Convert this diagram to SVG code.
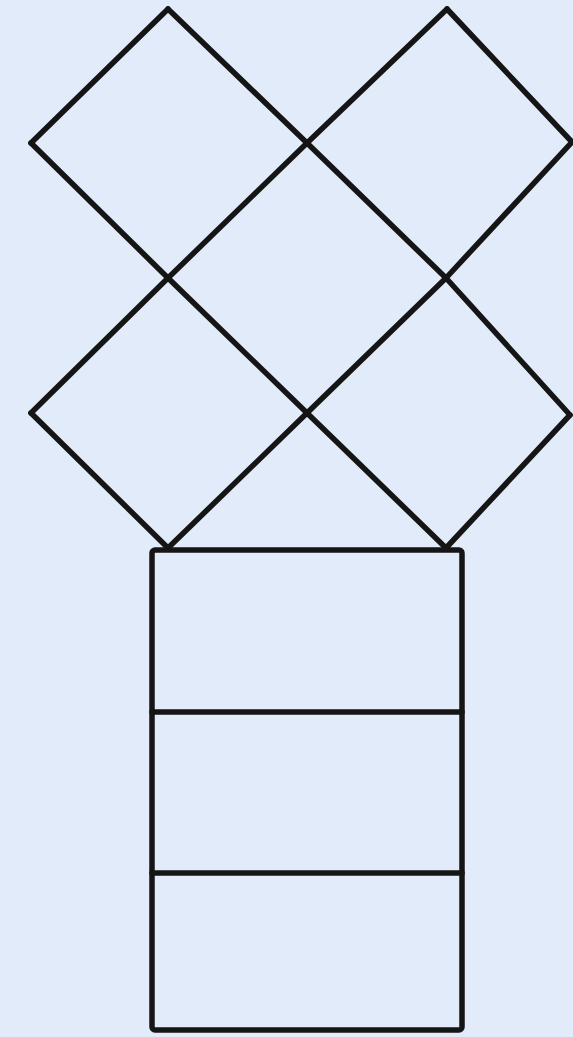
<svg xmlns="http://www.w3.org/2000/svg" width="573" height="1037" viewBox="0 0 573 1037">
<style>
.ln{fill:none;stroke:#151515;stroke-width:5.5;stroke-linecap:round;stroke-linejoin:round}
</style>
<rect width="573" height="1037" fill="#E2EBF9"/>
<g id="diamonds" class="ln">
<polyline points="31,143 168,278 307,413 446,548"/>
<polyline points="168,9 307,143 446,278 570,415"/>
<polyline points="31,413 168,548"/>
<polyline points="447,9 572,142"/>
<polyline points="447,9 307,143 168,278 31,413"/>
<polyline points="572,142 446,278 307,413 168,548"/>
<polyline points="168,9 31,143"/>
<polyline points="570,415 446,548"/>
</g>
<g id="column" class="ln">
<rect x="152" y="550" width="310" height="480" rx="3"/>
<line x1="152" y1="712" x2="462" y2="712"/>
<line x1="152" y1="873" x2="462" y2="873"/>
</g>
</svg>
